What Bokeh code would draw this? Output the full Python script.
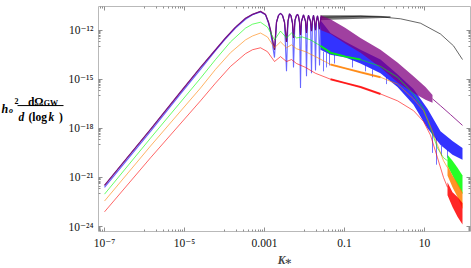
import numpy as np
from bokeh.plotting import figure
from bokeh.layouts import row
from bokeh.models import Range1d, FixedTicker, CustomJSTickFormatter, LogAxis
from bokeh.core.properties import value
from bokeh.embed import file_html
from bokeh.resources import INLINE

# ---------------- data: log10(k), log10(h^2 dOmega/dlog k) ----------------
rise_lk = [-7.0, -5.85, -5.1, -4.6, -4.225, -3.975, -3.725, -3.475, -3.3, -3.1, -2.975, -2.9, -2.85, -2.8]
purple_rise_lo = [-21.48, -18.06, -15.78, -14.28, -13.2, -12.48, -11.82, -11.28, -11.04, -10.86, -11.04, -11.52, -12.0, -12.6]
blue_rise_lo = [-21.6, -18.18, -15.9, -14.4, -13.26, -12.54, -11.88, -11.34, -11.07, -10.89, -11.07, -11.58, -12.12, -12.9]

arch_lk = [-2.75, -2.7, -2.65, -2.6, -2.55, -2.5, -2.45, -2.4125, -2.375, -2.3375, -2.3, -2.275,
           -2.2375, -2.2, -2.175, -2.15, -2.125, -2.1, -2.075, -2.025, -1.975, -1.95, -1.925, -1.9,
           -1.85, -1.825, -1.8, -1.775, -1.75, -1.725, -1.7, -1.675, -1.65, -1.625, -1.6, -1.575]
purple_arch_lo = [-13.2, -11.52, -11.1, -10.98, -11.1, -11.52, -12.72, -11.46, -11.01, -11.13, -11.58, -12.48,
                  -11.4, -11.1, -11.04, -11.16, -11.52, -12.3, -11.46, -11.07, -11.46, -12.18, -11.4, -11.1,
                  -11.46, -12.06, -11.4, -11.1, -11.46, -12.0, -11.4, -11.13, -11.46, -11.94, -11.4, -11.16]
blue_arch_lo = [-13.68, -11.52, -11.1, -10.98, -11.1, -11.52, -14.52, -11.46, -11.01, -11.13, -11.58, -14.28,
                -11.4, -11.1, -11.04, -11.16, -11.52, -15.54, -11.46, -11.07, -11.46, -14.82, -11.4, -11.1,
                -11.46, -14.64, -11.4, -11.1, -11.46, -14.46, -11.4, -11.13, -11.46, -14.16, -11.4, -11.16]

black_band_lk = [-1.6, -1.35, -0.975, -0.6, -0.225, 0.15]
black_band_top = [-11.1, -11.1, -11.1, -11.1, -11.13, -11.16]
black_band_bot = [-11.4, -11.37, -11.34, -11.31, -11.28, -11.25]
black_tail_lk = [-1.6, -1.1, -0.6, -0.1, 0.4, 0.9, 1.4, 1.725, 1.95]
black_tail_lo = [-11.22, -11.19, -11.16, -11.19, -11.31, -11.58, -12.24, -12.96, -13.8]

purple_band_lk = [-1.6, -1.35, -0.975, -0.6, -0.1, 0.325, 0.725, 1.025, 1.2]
purple_band_top = [-11.1, -11.34, -11.88, -12.48, -13.2, -13.98, -14.82, -15.48, -15.96]
purple_band_bot = [-12.0, -12.24, -12.84, -13.38, -14.28, -15.18, -15.84, -16.26, -16.44]
purple_tail_lk = [1.2, 1.4, 1.65, 1.95]
purple_tail_lo = [-16.2, -16.62, -17.16, -17.82]

blue_band_lk = [-1.6, -1.35, -0.975, -0.6, -0.1, 0.325, 0.725, 1.075, 1.4, 1.7, 1.95]
blue_band_top = [-11.4, -12.18, -12.72, -13.2, -13.8, -14.7, -15.6, -16.8, -18.18, -18.78, -19.2]
blue_band_bot = [-13.2, -13.5, -13.68, -14.04, -14.64, -15.48, -16.56, -18.0, -19.02, -19.62, -19.92]
blue_spike_lk = [-1.525, -1.45, -1.375, -1.25, -0.8, -0.475, -0.3, 0.05, 1.2, 1.3, 1.425, 1.575]
blue_spike_top = [-13.32, -13.38, -13.44, -13.5, -13.8, -14.16, -14.4, -14.88, -18.3, -18.6, -19.08, -19.32]
blue_spike_bot = [-14.52, -14.28, -14.16, -14.04, -14.28, -14.52, -14.88, -15.3, -19.5, -20.22, -19.68, -19.8]

green_lk = [-7.0, -5.85, -4.6, -4.225, -3.85, -3.475, -3.3, -3.1, -2.925, -2.75, -2.6, -2.45, -2.325, -2.2,
            -2.05, -1.85, -1.6, -1.35, -0.975, -0.6, -0.1, 0.325, 0.725, 0.975, 1.15, 1.325, 1.475, 1.575]
green_lo = [-22.02, -18.6, -14.94, -13.8, -12.72, -11.88, -11.64, -11.52, -11.82, -12.6, -12.06, -12.48, -12.18,
            -12.48, -12.42, -12.6, -12.96, -13.38, -13.62, -13.8, -14.22, -14.88, -15.9, -16.8, -18.0, -19.2,
            -19.8, -19.98]
green_band_lk = [1.575, 1.7, 1.825, 1.95]
green_band_top = [-19.62, -19.98, -20.4, -20.88]
green_band_bot = [-20.28, -20.88, -21.48, -22.02]

lower_lk = [-7.0, -5.85, -4.6, -4.225, -3.85, -3.475, -3.3, -3.1, -2.925, -2.75, -2.6, -2.45, -2.325, -2.2,
            -1.975, -1.725, -1.35, -0.975, -0.6, -0.1, 0.325, 0.725, 0.975, 1.15, 1.325, 1.475, 1.575]
orange_lo = [-22.44, -19.08, -15.54, -14.4, -13.38, -12.6, -12.36, -12.18, -12.42, -13.08, -12.72, -13.08, -12.9,
             -13.14, -13.32, -13.62, -14.1, -14.34, -14.58, -14.88, -15.3, -16.2, -16.92, -17.88, -19.02, -19.98,
             -20.4]
orange_band_lk = [1.575, 1.7, 1.825, 1.95]
orange_band_top = [-20.28, -20.88, -21.36, -21.9]
orange_band_bot = [-20.88, -21.6, -22.2, -22.92]

red_lo = [-23.1, -19.8, -16.32, -15.24, -14.22, -13.44, -13.2, -13.08, -13.32, -13.92, -13.62, -13.92, -13.8,
          -14.04, -14.28, -14.64, -15.0, -15.24, -15.48, -15.9, -16.32, -16.92, -17.58, -18.42, -19.8, -21.0,
          -21.6]
red_band_lk = [1.575, 1.7, 1.825, 1.95]
red_band_top = [-21.3, -21.9, -22.2, -22.56]
red_band_bot = [-22.08, -22.8, -23.4, -23.88]

xtick_exp = [-7, -5, -3, -1, 1]
xtick_lab = ["10⁻⁷", "10⁻⁵", "0.001", "0.1", "10"]
ytick_exp = [-24, -21, -18, -15, -12]
ytick_lab = ["10⁻²⁴", "10⁻²¹", "10⁻¹⁸", "10⁻¹⁵", "10⁻¹²"]


def pw(a):
    return [10.0 ** v for v in a]


FONT = "'Liberation Serif', 'DejaVu Serif', serif"
FRAME = "#b9b9b9"
TICK = "#8f8f8f"
PURPLE, BLUE, GREEN, ORANGE, RED = "#800080", "#0000ff", "#00ff00", "#ff8000", "#ff0000"

p = figure(width=407, height=268, x_axis_type="log", y_axis_type="log",
           x_range=Range1d(10 ** -7.15, 10 ** 2.15), y_range=Range1d(10 ** -24.3, 10 ** -10.56),
           output_backend="svg", toolbar_location=None,
           min_border_left=34, min_border_right=1, min_border_top=6, min_border_bottom=33)
p.grid.visible = False
p.outline_line_color = None
p.background_fill_color = "white"

xt = FixedTicker(ticks=[10.0 ** e for e in xtick_exp],
                 minor_ticks=[m * 10.0 ** (e - 1) for e in xtick_exp for m in range(1, 10)])
yt = FixedTicker(ticks=[10.0 ** e for e in ytick_exp],
                 minor_ticks=[m * 10.0 ** (e - 1) for e in ytick_exp for m in range(1, 10)])
fmt_code = "const i = exps.indexOf(Math.round(Math.log10(tick))); return i >= 0 ? labs[i] : '';"
xf = CustomJSTickFormatter(args=dict(exps=xtick_exp, labs=xtick_lab), code=fmt_code)
yf = CustomJSTickFormatter(args=dict(exps=ytick_exp, labs=ytick_lab), code=fmt_code)


def style_axis(ax, labels=True):
    ax.axis_line_color = FRAME
    ax.major_tick_line_color = TICK
    ax.minor_tick_line_color = TICK
    ax.major_tick_in = 4
    ax.major_tick_out = 0
    ax.minor_tick_in = 2
    ax.minor_tick_out = 0
    if labels:
        ax.major_label_text_font = FONT
        ax.major_label_text_font_size = "11.5px"
        ax.major_label_text_color = "#111111"
        ax.major_label_standoff = 5
    else:
        ax.major_label_text_font_size = "0px"
        ax.major_label_standoff = 0


p.xaxis.ticker = xt
p.xaxis.formatter = xf
p.yaxis.ticker = yt
p.yaxis.formatter = yf
style_axis(p.xaxis[0])
style_axis(p.yaxis[0])
p.xaxis.axis_label = "K⁎"
p.xaxis.axis_label_text_font = FONT
p.xaxis.axis_label_text_font_style = "bold italic"
p.xaxis.axis_label_text_font_size = "11.5px"
p.xaxis.axis_label_standoff = 2

top_ax = LogAxis(ticker=xt, formatter=CustomJSTickFormatter(code="return '';"))
right_ax = LogAxis(ticker=yt, formatter=CustomJSTickFormatter(code="return '';"))
style_axis(top_ax, labels=False)
style_axis(right_ax, labels=False)
p.add_layout(top_ax, "above")
p.add_layout(right_ax, "right")

# black curve
top_lk = rise_lk + arch_lk
p.line(pw(top_lk), pw(purple_rise_lo + purple_arch_lo), line_color="black", line_width=0.8, line_alpha=0.8)
p.varea(x=pw(black_band_lk), y1=pw(black_band_top), y2=pw(black_band_bot), fill_color="black", fill_alpha=0.55)
p.line(pw(black_tail_lk), pw(black_tail_lo), line_color="black", line_width=0.8, line_alpha=0.75)

# blue curve
p.line(pw(top_lk), pw(blue_rise_lo + blue_arch_lo), line_color=BLUE, line_width=1.1, line_alpha=0.6)
p.varea(x=pw(blue_band_lk), y1=pw(blue_band_top), y2=pw(blue_band_bot), fill_color=BLUE, fill_alpha=0.8)
p.segment(x0=pw(blue_spike_lk), y0=pw(blue_spike_top), x1=pw(blue_spike_lk), y1=pw(blue_spike_bot),
          line_color=BLUE, line_width=1, line_alpha=0.55)

# purple curve
p.line(pw(top_lk), pw(purple_rise_lo + purple_arch_lo), line_color=PURPLE, line_width=1.3, line_alpha=0.8)
p.varea(x=pw(purple_band_lk), y1=pw(purple_band_top), y2=pw(purple_band_bot), fill_color=PURPLE, fill_alpha=0.75)
p.line(pw(purple_tail_lk), pw(purple_tail_lo), line_color=PURPLE, line_width=1, line_alpha=0.8)

# green, orange, red curves
for lk, lo, blk, btop, bbot, col, lo_thick, hi_thick in [
        (green_lk, green_lo, green_band_lk, green_band_top, green_band_bot, GREEN, -1.6, -0.6),
        (lower_lk, orange_lo, orange_band_lk, orange_band_top, orange_band_bot, ORANGE, -1.35, -0.1),
        (lower_lk, red_lo, red_band_lk, red_band_top, red_band_bot, RED, -1.35, -0.1)]:
    p.line(pw(lk), pw(lo), line_color=col, line_width=1, line_alpha=0.6)
    sel = [i for i, v in enumerate(lk) if lo_thick <= v <= hi_thick]
    p.line(pw([lk[i] for i in sel]), pw([lo[i] for i in sel]), line_color=col, line_width=2, line_alpha=0.8)
    p.varea(x=pw(blk), y1=pw(btop), y2=pw(bbot), fill_color=col, fill_alpha=0.85)

# ---------------- y-axis label panel ----------------
lab = figure(width=64, height=268, x_range=Range1d(0, 64), y_range=Range1d(0, 268),
             output_backend="svg", toolbar_location=None, min_border=0,
             x_axis_location=None, y_axis_location=None)
lab.grid.visible = False
lab.outline_line_color = None


def t(x, y, s, size, style, align="left"):
    lab.text(x=[x], y=[y], text=[s], text_font=value(FONT), text_font_size=value(size),
             text_font_style=style, text_align=align, text_baseline="alphabetic", text_color="black")


t(1, 146, "h", "12px", "bold italic")
t(8.5, 144.5, "o", "8px", "bold italic")
t(14, 155, "2", "8px", "bold")
lab.segment(x0=[17], y0=[150], x1=[63], y1=[150], line_color="black", line_width=1)
t(43, 154, "dΩ", "11.5px", "bold", align="right")
t(43.3, 152, "GW", "8px", "bold")
t(18, 136.5, "d", "11.5px", "bold italic")
t(28, 136.5, "(log", "11.5px", "bold")
t(48, 136.5, "k", "11.5px", "bold italic")
t(58.5, 136.5, ")", "11.5px", "bold")

layout = row(lab, p)
open("out.html", "w").write(file_html(layout, INLINE))
